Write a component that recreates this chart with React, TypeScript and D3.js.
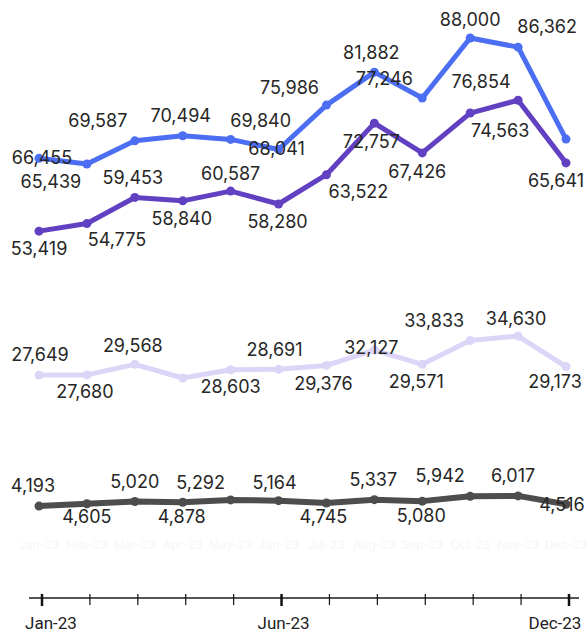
import React from "react";
import * as d3 from "d3";

const months = ["Jan-23","Feb-23","Mar-23","Apr-23","May-23","Jun-23","Jul-23","Aug-23","Sep-23","Oct-23","Nov-23","Dec-23"];
const axisLabels = ["Jan-23", "Jun-23", "Dec-23"];

const seriesA = [66455, 65439, 69587, 70494, 69840, 68041, 75986, 81882, 77246, 88000, 86362, 69900];
const seriesB = [53419, 54775, 59453, 58840, 60587, 58280, 63522, 72757, 67426, 74563, 76854, 65641];
const seriesC = [27649, 27680, 29568, 27120, 28603, 28691, 29376, 32127, 29571, 33833, 34630, 29173];
const seriesD = [4193, 4605, 5020, 4878, 5292, 5164, 4745, 5337, 5080, 5942, 6017, 4516];

// which points show a label
const showA = [1,1,1,1,1,1,1,1,1,1,1,0];
const showB = [1,1,1,1,1,1,1,1,1,1,1,1];
const showC = [1,1,1,0,1,1,1,1,1,1,1,1];
const showD = [1,1,1,1,1,1,1,1,1,1,1,1];

// label offsets (layout)
const offA: [number, number][] = [[3,1],[-36,19],[-37,-19],[-2,-19],[30,-17],[-2,1],[-37,-16],[-3,-18],[-38,-18],[0,-17],[29,-19],[0,0]];
const offB: [number, number][] = [[0,19],[30,18],[-2,-18],[-1,19],[0,-16],[-1,19],[32,18],[-3,20],[-5,20],[30,19],[-37,-17],[-10,19]];
const offC: [number, number][] = [[1,-19],[-2,18],[-2,-17],[0,0],[0,18],[-4,-18],[-3,20],[-3,-1],[-6,19],[-36,-18],[-2,-16],[-11,17]];
const offD: [number, number][] = [[-6,-19],[0,14],[0,-18],[-1,16],[-30,-16],[-4,-17],[-3,15],[-1,-19],[-1,16],[-30,-19],[-5,-19],[-4,2]];

const W = 588, H = 637;

const x = d3.scaleLinear().domain([0, 11]).range([39, 566]);
const y = d3.scaleLinear().domain([0, 88000]).range([529.5, 38]);

const fmt = d3.format(",");

const series = [
  { vals: seriesC, show: showC, off: offC, color: "#ddd5f8", width: 5 },
  { vals: seriesD, show: showD, off: offD, color: "#4d4d4d", width: 6 },
  { vals: seriesB, show: showB, off: offB, color: "#6240c2", width: 5 },
  { vals: seriesA, show: showA, off: offA, color: "#4c6ef2", width: 5 },
];

export default function App() {
  const line = d3.line<number>().x((_, i) => x(i)).y((d) => y(d));
  const axisY = 598;
  const ax = (i: number) => x(i) + 3;
  return (
    <svg width={W} height={H} style={{ position: "absolute", left: 0, top: 0, background: "#fff" }}>
      {/* faint ghost labels */}
      {months.map((m, i) => (
        <text key={"g" + i} x={x(i)} y={546} textAnchor="middle" dominantBaseline="middle"
          fontFamily="Inter, sans-serif" fontSize={12} fill="#f6f6f6">{m}</text>
      ))}
      {series.map((s, si) => (
        <g key={si}>
          <path d={line(s.vals) || ""} fill="none" stroke={s.color} strokeWidth={s.width}
            strokeLinejoin="round" strokeLinecap="round" />
          {s.vals.map((v, i) => (
            <circle key={i} cx={x(i)} cy={y(v)} r={4.5} fill={s.color} />
          ))}
        </g>
      ))}
      {series.map((s, si) => (
        <g key={"l" + si}>
          {s.vals.map((v, i) => s.show[i] ? (
            <text key={i} x={x(i) + s.off[i][0]} y={y(v) + s.off[i][1]} textAnchor="middle"
              dominantBaseline="middle" fontFamily="Inter, sans-serif" fontSize={18} fill="#262626">
              {fmt(v)}
            </text>
          ) : null)}
        </g>
      ))}
      {/* axis */}
      <line x1={29} x2={579} y1={axisY} y2={axisY} stroke="#555" strokeWidth={2} />
      {months.map((m, i) => {
        const major = i === 0 || i === 5 || i === 11;
        return (
          <line key={"t" + i} x1={ax(i)} x2={ax(i)} y1={axisY - 4} y2={axisY + (major ? 8 : 7)}
            stroke="#111" strokeWidth={major ? 2.5 : 1.2} />
        );
      })}
      <text x={ax(0) + 9} y={625} textAnchor="middle" dominantBaseline="middle"
        fontFamily="Roboto, sans-serif" fontSize={17} fill="#222">{axisLabels[0]}</text>
      <text x={ax(5) + 2} y={625} textAnchor="middle" dominantBaseline="middle"
        fontFamily="Roboto, sans-serif" fontSize={17} fill="#222">{axisLabels[1]}</text>
      <text x={ax(11) - 14} y={625} textAnchor="middle" dominantBaseline="middle"
        fontFamily="Roboto, sans-serif" fontSize={17} fill="#222">{axisLabels[2]}</text>
    </svg>
  );
}
